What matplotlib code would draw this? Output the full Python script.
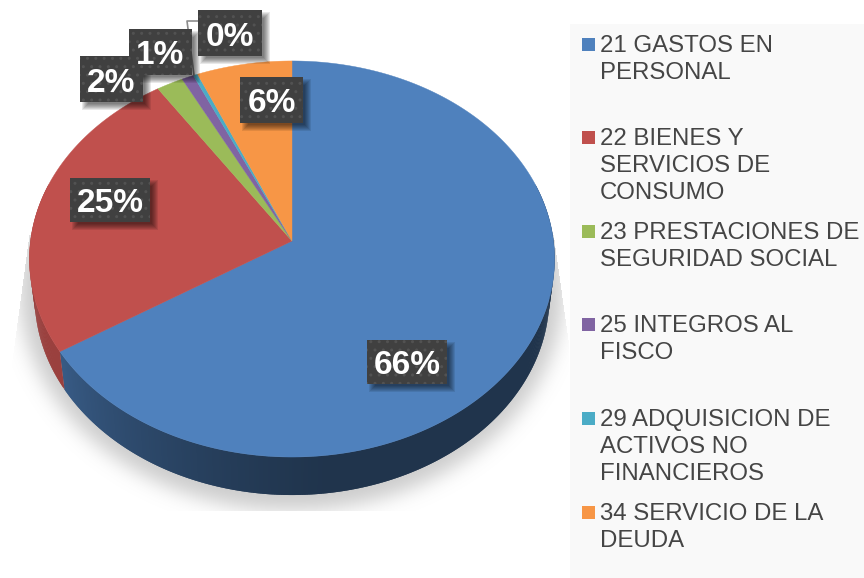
import numpy as np
import matplotlib
matplotlib.use('Agg')
import matplotlib.pyplot as plt
from matplotlib.colors import to_rgb

categories = ['21 GASTOS EN\nPERSONAL',
              '22 BIENES Y\nSERVICIOS DE\nCONSUMO',
              '23 PRESTACIONES DE\nSEGURIDAD SOCIAL',
              '25 INTEGROS AL\nFISCO',
              '29 ADQUISICION DE\nACTIVOS NO\nFINANCIEROS',
              '34 SERVICIO DE LA\nDEUDA']
values = [66.0, 24.7, 1.8, 0.8, 0.3, 6.4]
colors = ['#4f81bd', '#c0504d', '#9bbb59', '#8064a2', '#4bacc6', '#f79646']

label_boxes = [(367, 340, 80, 44), (70, 178, 80, 44), (80, 56, 63, 46),
               (129, 29, 63, 46), (198, 10, 64, 46), (240, 77, 63, 46)]
legend_y = [44, 137, 231, 324, 418, 512]

plt.rcParams['font.family'] = ['Liberation Sans', 'DejaVu Sans']

# pie is tilted, so project the unit circle with a bit of perspective
CX, CY = 292, 241
R, A, C = 261.5, 196.4, 0.0909
DEPTH = 38
RIM = 0.98  # lower rim is a little narrower


def project(t, r=1.0, drop=0):
    u = r * np.sin(t)
    v = r * np.cos(t)
    w = 1 + C * v
    return CX + R * u / w, CY - A * v / w + drop


def blur(img, size):
    k = np.exp(-np.linspace(-2.2, 2.2, size) ** 2)
    k = k / k.sum()
    img = np.apply_along_axis(lambda m: np.convolve(m, k, mode='same'), 0, img)
    return np.apply_along_axis(lambda m: np.convolve(m, k, mode='same'), 1, img)


fig = plt.figure(figsize=(8.64, 5.78), dpi=100)
ax = fig.add_axes([0, 0, 1, 1])

# legend panel
ax.fill_between([570, 864], 24, 578, color='#f9f9f9', lw=0, zorder=0)

# soft shadow under the pie, cut off square like the original
yy, xx = np.mgrid[0:578, 0:864]
mask = (((xx - 291) / 272.0) ** 2 + ((yy - 288) / 222.0) ** 2 < 1).astype(float)
shadow = blur(mask, 61)
shadow[yy > 510] = 0
shadow[xx < 12 + np.clip(360 - yy, 0, None) * 0.135] = 0
shadow[xx > 568 - np.clip(340 - yy, 0, None) * 0.14] = 0
shadow[yy < 235] = 0
rgba = np.zeros((578, 864, 4))
rgba[..., :3] = 0.6
rgba[..., 3] = shadow * 0.5
ax.imshow(rgba, extent=(0, 864, 578, 0), zorder=1, aspect='auto')
ax.set_xlim(0, 864)
ax.set_ylim(578, 0)
ax.axis('off')

# wedges
fracs = np.array(values) / sum(values)
ends = np.cumsum(fracs) * 2 * np.pi
starts = ends - fracs * 2 * np.pi

# side wall, only the lower half shows
for s, e, col in zip(starts, ends, colors):
    lo = max(s, np.pi / 2 - 0.3)
    hi = min(e, 3 * np.pi / 2 + 0.3)
    if hi <= lo:
        continue
    ts = np.linspace(lo, hi, int((hi - lo) * 120) + 2)
    base = np.array(to_rgb(col))
    for i in range(len(ts) - 1):
        a = ts[i]
        b = ts[min(i + 2, len(ts) - 1)]  # overlap the next quad so no seams show
        x1, y1 = project(a)
        x2, y2 = project(b)
        # darkest near the bottom right, lighter toward the left end
        shade = 0.40 + 0.36 * np.clip((a - np.pi * 0.95) / (np.pi * 0.42), 0, 1) ** 1.3
        if col == '#c0504d':
            shade = 0.8
        x3 = CX + (x2 - CX) * RIM
        x4 = CX + (x1 - CX) * RIM
        ax.fill([x1, x2, x3, x4], [y1, y2, y2 + DEPTH, y1 + DEPTH],
                color=base * shade, lw=0, zorder=2)

# top face
for s, e, col in zip(starts, ends, colors):
    ts = np.linspace(s, e, max(int((e - s) * 80), 3))
    xs, ys = project(ts)
    ax.fill(np.r_[CX, xs], np.r_[CY, ys], color=col, lw=0.3, zorder=3)

# leader line for the smallest slice
ax.plot([194, 187, 198], [75, 21, 21], color='#8c8c8c', lw=1.2, zorder=4)

# data labels
for val, (x, y, w, h) in zip(values, label_boxes):
    for i in range(7):
        ax.fill([x + 2 + i, x + w + 8 - i, x + w + 8 - i, x + 2 + i],
                [y + 2 + i, y + 2 + i, y + h + 8 - i, y + h + 8 - i],
                color='k', alpha=0.09, lw=0, zorder=5)
    ax.fill([x, x + w, x + w, x], [y, y, y + h, y + h], facecolor='#404040',
            edgecolor='#525252', hatch='..', lw=0, zorder=6)
    ax.text(x + w / 2, y + h / 2 + 4, '%d%%' % round(val), color='white', fontsize=24,
            fontweight='bold', ha='center', va='center', zorder=7)

# legend
for cat, col, y in zip(categories, colors, legend_y):
    ax.fill([582, 595, 595, 582], [y - 6, y - 6, y + 7, y + 7], color=col, lw=0, zorder=3)
    ax.text(600, y - 9, cat, color='#454545', fontsize=17.3, ha='left', va='top',
            linespacing=1.3, zorder=3)

fig.savefig('out.png', dpi=100)
